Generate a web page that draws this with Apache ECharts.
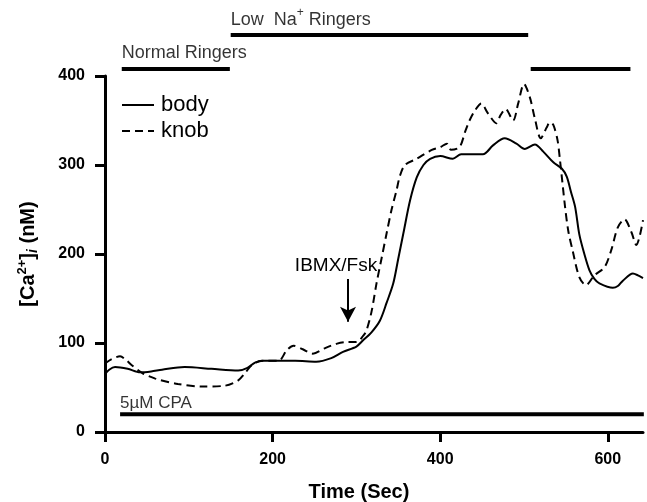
<!DOCTYPE html>
<html>
<head>
<meta charset="utf-8">
<script src="https://cdn.jsdelivr.net/npm/echarts@6/dist/echarts.min.js"></script>
<style>
  html, body { margin: 0; padding: 0; background: #fff; }
  #chart { width: 647px; height: 502px; }
</style>
</head>
<body>
<div id="chart"></div>
<script>
// curves (time in s, [Ca2+]i in nM)
var bodyTime = [0, 5, 12, 27, 42, 55, 68, 95, 127, 159, 170, 179, 189, 210, 227, 252, 270, 284, 300, 308, 318, 328, 336, 344, 350, 356, 364, 372, 380, 388, 400, 415, 425, 451, 463, 477, 491, 501, 513, 523, 535, 545, 551, 556, 561, 566, 572, 578, 584, 590, 606, 612, 618, 630, 636, 642];
var bodyCa = [65, 70, 73, 71, 67, 68, 70, 73, 71, 69, 72, 78, 80, 80, 80, 79, 83, 90, 96, 103, 112, 125, 145, 167, 195, 223, 260, 286, 300, 307, 310, 307, 312, 312, 322, 330, 324, 318, 323, 315, 303, 296, 287, 270, 253, 222, 200, 182, 172, 167, 162, 164, 170, 178, 176, 173];

var knobTime = [0, 8, 18, 25, 32, 45, 60, 87, 115, 143, 159, 167, 175, 187, 207, 217, 225, 236, 248, 262, 276, 288, 300, 308, 312, 318, 324, 330, 336, 342, 348, 352, 358, 372, 390, 400, 408, 413, 423, 430, 435, 442, 449, 457, 467, 472, 478, 487, 493, 500, 507, 513, 520, 527, 531, 535, 540, 543, 549, 553, 558, 566, 574, 584, 596, 604, 612, 620, 628, 634, 642];
var knobCa = [77, 82, 85, 81, 75, 66, 60, 54, 51, 52, 58, 66, 75, 80, 80, 92, 97, 93, 88, 94, 99, 101, 101, 108, 114, 135, 167, 195, 223, 250, 272, 288, 300, 307, 317, 320, 324, 317, 320, 338, 350, 362, 369, 358, 347, 356, 363, 350, 369, 391, 376, 352, 330, 342, 348, 345, 328, 305, 253, 225, 204, 174, 165, 176, 185, 204, 230, 239, 225, 210, 238];

// treatment bars: [start, end, level]
var normalBar = [20, 149, 408];
var lowNaBar = [150, 505, 446];
var returnBar = [508, 627, 408];
var cpaBar = [18, 643, 20];

var xTicks = [0, 200, 400, 600];
var arrowAt = [290, 172, 124];

function pairs(xs, ys) {
    return xs.map(function (x, i) { return [x, ys[i]]; });
}

function barSeries(name, b) {
    return {
        name: name,
        type: 'line',
        data: [[b[0], b[2]], [b[1], b[2]]],
        showSymbol: false,
        symbol: 'none',
        clip: false,
        silent: true,
        lineStyle: { color: '#000', width: 4 },
        z: 3
    };
}

var font = "'Liberation Sans', Arial, sans-serif";

var option = {
    animation: false,
    textStyle: { fontFamily: font, color: '#000' },
    grid: { left: 105, right: 4, top: 76, bottom: 70, outerBoundsMode: 'none', containLabel: false },
    legend: {
        data: ['body', 'knob'],
        orient: 'vertical',
        left: 116,
        top: 89,
        itemWidth: 32,
        itemHeight: 4,
        itemGap: 4,
        itemStyle: { color: 'rgba(0,0,0,0)', borderColor: 'rgba(0,0,0,0)', borderWidth: 0 },
        textStyle: { fontFamily: font, fontSize: 22, color: '#000', padding: [0, 0, 0, 2] }
    },
    xAxis: {
        type: 'value',
        min: 0,
        max: 642,
        interval: 200,
        name: 'Time (Sec)',
        nameLocation: 'middle',
        nameGap: 50,
        nameTextStyle: { fontFamily: font, fontSize: 20, fontWeight: 'bold', color: '#000', padding: [0, 30, 0, 0] },
        axisLine: { lineStyle: { color: '#000', width: 3 } },
        axisTick: { length: 10, lineStyle: { width: 3 }, customValues: xTicks },
        axisLabel: { margin: 20, fontSize: 16, fontWeight: 'bold', color: '#000', customValues: xTicks },
        splitLine: { show: false }
    },
    yAxis: {
        type: 'value',
        min: 0,
        max: 400,
        interval: 100,
        name: '{n|[Ca}{sup|2+}{n|]}{sub|i}{n| (nM)}',
        nameLocation: 'middle',
        nameGap: 65,
        nameTextStyle: {
            fontFamily: font, fontSize: 20, fontWeight: 'bold', color: '#000',
            rich: {
                n: { fontSize: 20, fontWeight: 'bold', lineHeight: 24, verticalAlign: 'middle' },
                sup: { fontSize: 13, fontWeight: 'bold', verticalAlign: 'top', lineHeight: 24 },
                sub: { fontSize: 14, fontWeight: 'bold', fontStyle: 'italic', verticalAlign: 'bottom', lineHeight: 24 }
            }
        },
        axisLine: { show: true, lineStyle: { color: '#000', width: 3 } },
        axisTick: { show: true, length: 10, lineStyle: { width: 3 } },
        axisLabel: { margin: 20, fontSize: 16, fontWeight: 'bold', color: '#000' },
        splitLine: { show: false }
    },
    series: [
        {
            name: 'body',
            type: 'line',
            data: pairs(bodyTime, bodyCa),
            smooth: 0.3,
            showSymbol: false,
            symbol: 'none',
            color: '#000',
            lineStyle: { color: '#000', width: 2 },
            z: 4,
            markLine: {
                silent: true,
                symbol: ['none', 'arrow'],
                symbolSize: [12, 15],
                lineStyle: { color: '#000', width: 2, type: 'solid' },
                label: {
                    show: true,
                    position: 'start',
                    formatter: 'IBMX/Fsk',
                    fontFamily: font,
                    fontSize: 19,
                    color: '#000',
                    distance: 4,
                    offset: [-12, 0]
                },
                data: [[
                    { coord: [arrowAt[0], arrowAt[1]] },
                    { coord: [arrowAt[0], arrowAt[2]] }
                ]]
            }
        },
        {
            name: 'knob',
            type: 'line',
            data: pairs(knobTime, knobCa),
            smooth: 0.3,
            showSymbol: false,
            symbol: 'none',
            color: '#000',
            lineStyle: { color: '#000', width: 2, type: [8, 5] },
            z: 4
        },
        barSeries('normalBar', normalBar),
        barSeries('lowNaBar', lowNaBar),
        barSeries('returnBar', returnBar),
        barSeries('cpaBar', cpaBar),
        {
            name: 'notes',
            type: 'scatter',
            symbolSize: 1,
            clip: false,
            silent: true,
            itemStyle: { color: 'rgba(0,0,0,0)' },
            label: {
                show: true,
                position: 'top',
                align: 'left',
                fontFamily: font,
                fontSize: 18,
                color: '#000'
            },
            data: [
                {
                    value: [lowNaBar[0], lowNaBar[2]],
                    label: {
                        distance: 6,
                        formatter: '{n|Low  Na}{sup|+}{n| Ringers}',
                        rich: {
                            n: { fontFamily: font, fontSize: 18, color: '#000', lineHeight: 22, verticalAlign: 'bottom' },
                            sup: { fontFamily: font, fontSize: 12, color: '#000', lineHeight: 22, verticalAlign: 'top' }
                        }
                    }
                },
                { value: [normalBar[0], normalBar[2]], label: { distance: 6, formatter: 'Normal Ringers' } },
                { value: [cpaBar[0], cpaBar[2]], label: { distance: 2, fontSize: 17, formatter: '5\u00b5M CPA' } }
            ]
        }
    ]
};

echarts.init(document.getElementById('chart')).setOption(option);
</script>
</body>
</html>
